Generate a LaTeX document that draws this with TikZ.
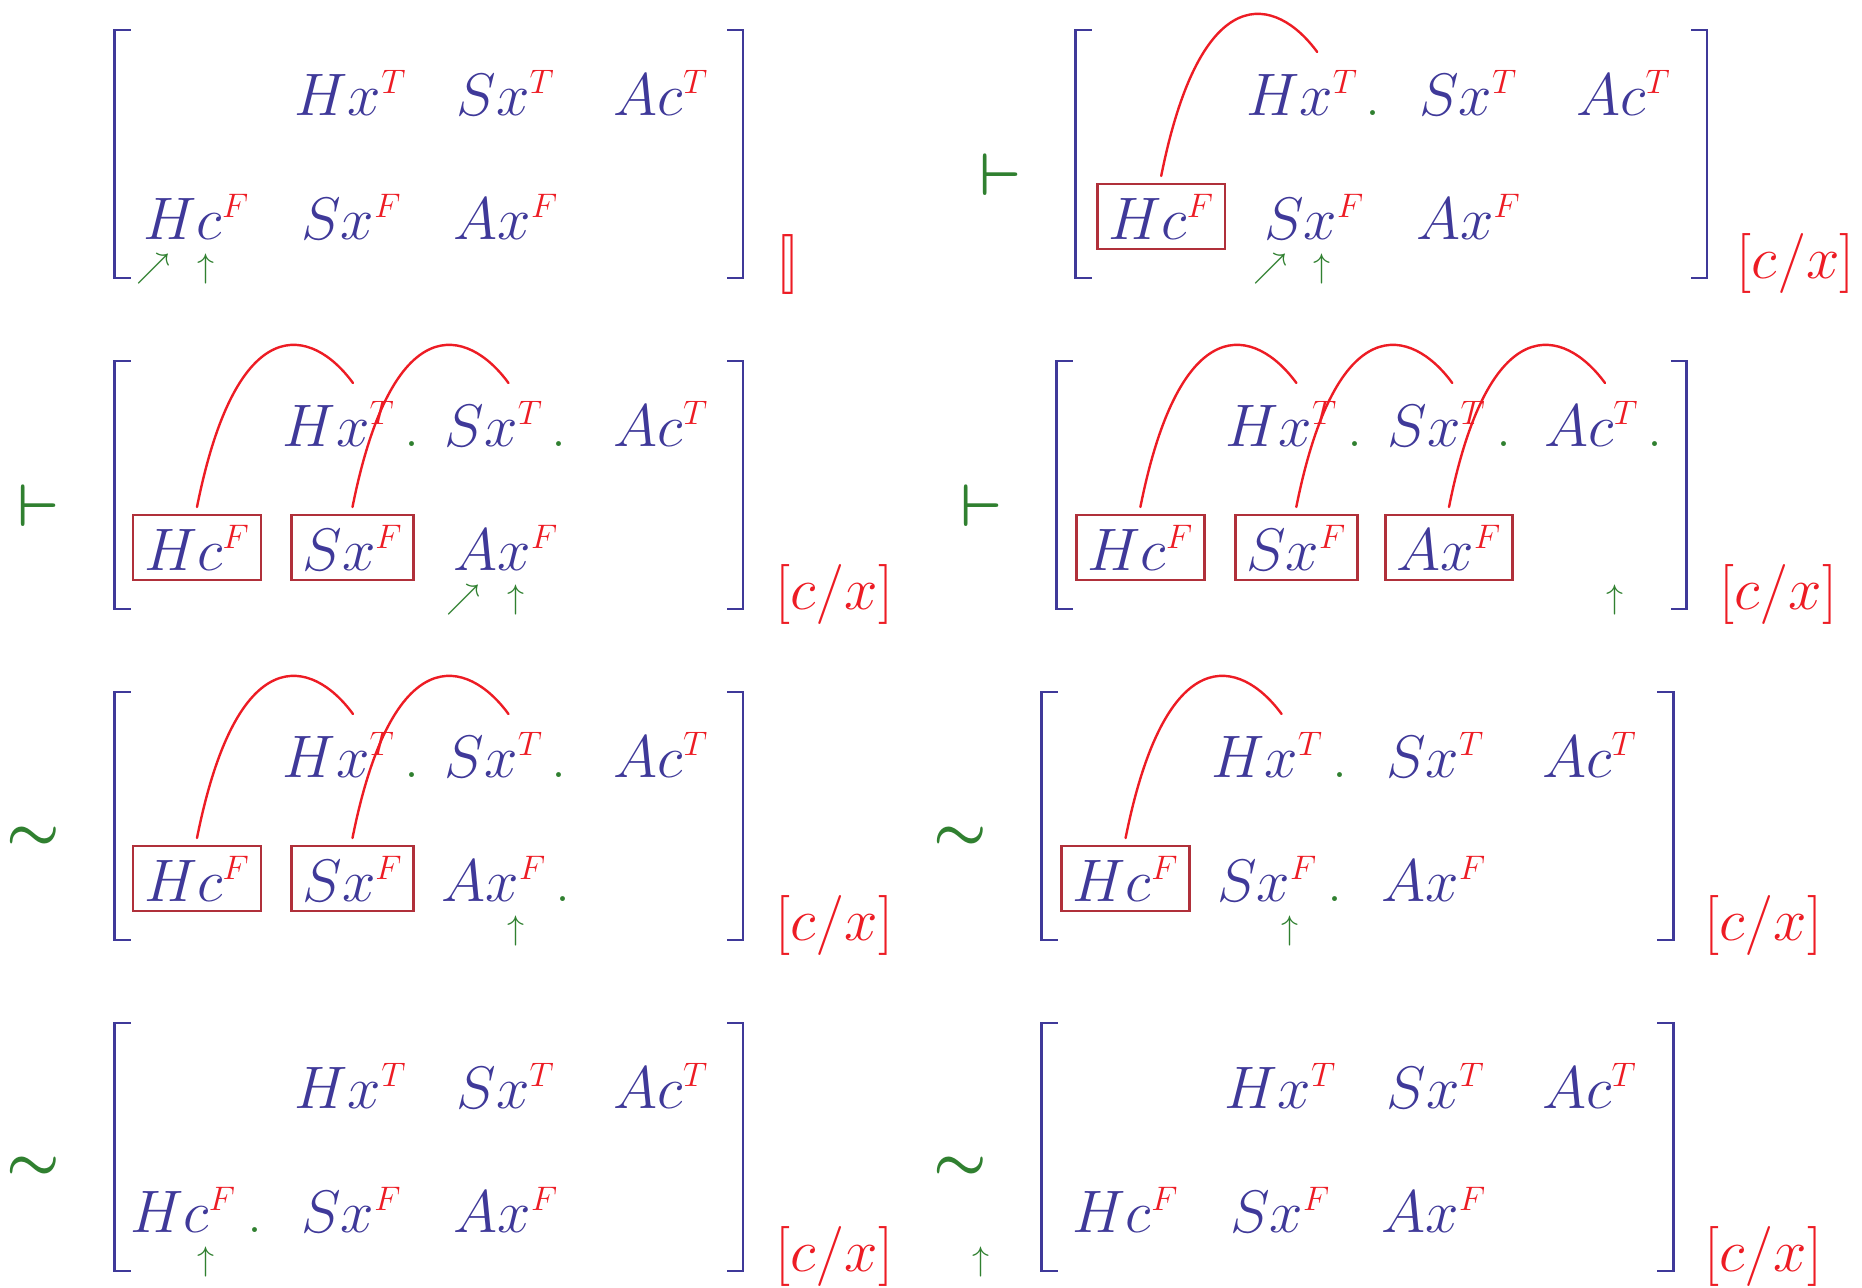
\RequirePackage{fix-cm}
\documentclass[tikz,border=0pt]{standalone}
\usepackage{xcolor}
\DeclareMathSizes{30}{30}{17}{12}
\definecolor{mblue}{RGB}{63,57,153}
\definecolor{mred}{RGB}{237,28,36}
\definecolor{mbox}{RGB}{176,48,58}
\definecolor{mgreen}{RGB}{48,128,48}
\newcommand\mtx[3]{$#1#2^{\textcolor{mred}{#3}}$}
\begin{document}
\begin{tikzpicture}[x=0.5pt,y=-0.5pt,
  ent/.style={anchor=base west, inner sep=0pt, outer sep=0pt, text=mblue, font=\fontsize{30}{36}\selectfont, xshift=-1.5pt},
  boxent/.style={ent, draw=mbox, line width=1.3pt, inner xsep=5.5pt, inner ysep=5pt, xshift=-5.5pt},
  gdot/.style={anchor=base, inner sep=0pt, text=mgreen, font=\fontsize{30}{36}\selectfont},
  rel/.style={anchor=base, inner sep=0pt, text=mgreen, font=\fontsize{30}{36}\selectfont\boldmath},
  arr/.style={anchor=base, inner sep=0pt, text=mgreen, font=\fontsize{17}{20}\selectfont},
  subst/.style={anchor=base west, inner sep=0pt, text=mred, font=\fontsize{30}{36}\selectfont, xshift=-2.5pt},
  brk/.style={draw=mblue, line width=1.4pt},
  link/.style={draw=mred, line width=1.2pt, line cap=round}]
\useasboundingbox (0,0) rectangle (1862,1287);

% ---------- panel 1 ----------
\draw[brk] (130.5,30) -- (114.5,30) -- (114.5,278) -- (130.5,278);
\draw[brk] (727,30) -- (743,30) -- (743,278) -- (727,278);
\node[ent] (p1a1) at (297.7,115) {\mtx{H}{x}{T}};
\node[ent] (p1a2) at (459.7,115) {\mtx{S}{x}{T}};
\node[ent] (p1a3) at (616.8,115) {\mtx{A}{c}{T}};
\node[ent] (p1b1) at (146.5,239) {\mtx{H}{c}{F}};
\node[ent] (p1b2) at (304.3,239) {\mtx{S}{x}{F}};
\node[ent] (p1b3) at (456.7,239) {\mtx{A}{x}{F}};
\node[arr, anchor=base west] (p1ne) at (136,277.6) {$\nearrow$};
\node[arr] (p1up) at (205.8,277.6) {$\uparrow$};
\node[subst] (p1s) at (781,279) {$[\mkern-2mu]$};

% ---------- panel 2 ----------
\node[rel] (p2r) at (1001,195) {$\vdash$};
\draw[brk] (1091.7,30) -- (1075.7,30) -- (1075.7,278) -- (1091.7,278);
\draw[brk] (1691,30) -- (1707,30) -- (1707,278) -- (1691,278);
\node[ent] (p2a1) at (1249.2,115) {\mtx{H}{x}{T}};
\node[gdot] (p2d1) at (1372.9,115) {.};
\node[ent] (p2a2) at (1422.2,115) {\mtx{S}{x}{T}};
\node[ent] (p2a3) at (1579.2,115) {\mtx{A}{c}{T}};
\node[boxent] (p2b1) at (1111.3,239) {\mtx{H}{c}{F}};
\node[ent] (p2b2) at (1267.1,239) {\mtx{S}{x}{F}};
\node[ent] (p2b3) at (1419.3,239) {\mtx{A}{x}{F}};
\node[arr, anchor=base west] (p2ne) at (1253.5,277.6) {$\nearrow$};
\node[arr] (p2up) at (1322.4,277.6) {$\uparrow$};
\node[subst] (p2s) at (1741.5,278) {$[c/x]$};
\coordinate (p2e1) at ([shift={(156,-132)}]p2b1.north);
\draw[link] ([yshift=4pt]p2b1.north) .. controls +(40,-200) and +(-41,-56) .. (p2e1);

% ---------- panel 3 ----------
\begin{scope}[shift={(0,331)}]
\node[rel] (p3r) at (38.3,195) {$\vdash$};
\draw[brk] (130.5,30) -- (114.5,30) -- (114.5,278) -- (130.5,278);
\draw[brk] (727,30) -- (743,30) -- (743,278) -- (727,278);
\node[ent] (p3a1) at (285.9,115) {\mtx{H}{x}{T}};
\node[gdot] (p3d1) at (412.2,115) {.};
\node[ent] (p3a2) at (447.8,115) {\mtx{S}{x}{T}};
\node[gdot] (p3d2) at (559.3,115) {.};
\node[ent] (p3a3) at (616.8,115) {\mtx{A}{c}{T}};
\node[boxent] (p3b1) at (147.1,239) {\mtx{H}{c}{F}};
\node[boxent] (p3b2) at (305.4,239) {\mtx{S}{x}{F}};
\node[ent] (p3b3) at (456.7,239) {\mtx{A}{x}{F}};
\node[arr, anchor=base west] (p3ne) at (446.2,277.6) {$\nearrow$};
\node[arr] (p3up) at (516,277.6) {$\uparrow$};
\node[subst] (p3s) at (780,278) {$[c/x]$};
\coordinate (p3e1) at ([shift={(156,-132)}]p3b1.north);
\coordinate (p3e2) at ([shift={(156,-132)}]p3b2.north);
\draw[link] ([yshift=4pt]p3b1.north) .. controls +(40,-200) and +(-41,-56) .. (p3e1);
\draw[link] ([yshift=4pt]p3b2.north) .. controls +(40,-200) and +(-41,-56) .. (p3e2);
\end{scope}

% ---------- panel 4 ----------
\begin{scope}[shift={(0,331)}]
\node[rel] (p4r) at (981.5,195) {$\vdash$};
\draw[brk] (1072.6,30) -- (1056.6,30) -- (1056.6,278) -- (1072.6,278);
\draw[brk] (1670.8,30) -- (1686.8,30) -- (1686.8,278) -- (1670.8,278);
\node[ent] (p4a1) at (1228.4,115) {\mtx{H}{x}{T}};
\node[gdot] (p4d1) at (1355.1,115) {.};
\node[ent] (p4a2) at (1390.7,115) {\mtx{S}{x}{T}};
\node[gdot] (p4d2) at (1503.7,115) {.};
\node[ent] (p4a3) at (1547.1,115) {\mtx{A}{c}{T}};
\node[gdot] (p4d3) at (1655.3,115) {.};
\node[boxent] (p4b1) at (1090.5,239) {\mtx{H}{c}{F}};
\node[boxent] (p4b2) at (1249.2,239) {\mtx{S}{x}{F}};
\node[boxent] (p4b3) at (1399.7,239) {\mtx{A}{x}{F}};
\node[arr] (p4up) at (1614.9,277.6) {$\uparrow$};
\node[subst] (p4s) at (1723.7,278) {$[c/x]$};
\coordinate (p4e1) at ([shift={(156,-132)}]p4b1.north);
\coordinate (p4e2) at ([shift={(156,-132)}]p4b2.north);
\coordinate (p4e3) at ([shift={(156,-132)}]p4b3.north);
\draw[link] ([yshift=4pt]p4b1.north) .. controls +(40,-200) and +(-41,-56) .. (p4e1);
\draw[link] ([yshift=4pt]p4b2.north) .. controls +(40,-200) and +(-41,-56) .. (p4e2);
\draw[link] ([yshift=4pt]p4b3.north) .. controls +(40,-200) and +(-41,-56) .. (p4e3);
\end{scope}

% ---------- panel 5 ----------
\begin{scope}[shift={(0,662)}]
\node[rel] (p5r) at (33.5,188) {$\sim$};
\draw[brk] (130.5,30) -- (114.5,30) -- (114.5,278) -- (130.5,278);
\draw[brk] (727,30) -- (743,30) -- (743,278) -- (727,278);
\node[ent] (p5a1) at (285.9,115) {\mtx{H}{x}{T}};
\node[gdot] (p5d1) at (412.2,115) {.};
\node[ent] (p5a2) at (447.8,115) {\mtx{S}{x}{T}};
\node[gdot] (p5d2) at (559.3,115) {.};
\node[ent] (p5a3) at (616.8,115) {\mtx{A}{c}{T}};
\node[boxent] (p5b1) at (147.1,239) {\mtx{H}{c}{F}};
\node[boxent] (p5b2) at (305.4,239) {\mtx{S}{x}{F}};
\node[ent] (p5b3) at (444.8,239) {\mtx{A}{x}{F}};
\node[gdot] (p5d3) at (563.4,239) {.};
\node[arr] (p5up) at (516,277.6) {$\uparrow$};
\node[subst] (p5s) at (780,278) {$[c/x]$};
\coordinate (p5e1) at ([shift={(156,-132)}]p5b1.north);
\coordinate (p5e2) at ([shift={(156,-132)}]p5b2.north);
\draw[link] ([yshift=4pt]p5b1.north) .. controls +(40,-200) and +(-41,-56) .. (p5e1);
\draw[link] ([yshift=4pt]p5b2.north) .. controls +(40,-200) and +(-41,-56) .. (p5e2);
\end{scope}

% ---------- panel 6 ----------
\begin{scope}[shift={(0,662)}]
\node[rel] (p6r) at (960.3,188) {$\sim$};
\draw[brk] (1057.8,30) -- (1041.8,30) -- (1041.8,278) -- (1057.8,278);
\draw[brk] (1657.1,30) -- (1673.1,30) -- (1673.1,278) -- (1657.1,278);
\node[ent] (p6a1) at (1214.2,115) {\mtx{H}{x}{T}};
\node[gdot] (p6d1) at (1340.2,115) {.};
\node[ent] (p6a2) at (1389,115) {\mtx{S}{x}{T}};
\node[ent] (p6a3) at (1545.3,115) {\mtx{A}{c}{T}};
\node[boxent] (p6b1) at (1075.7,239) {\mtx{H}{c}{F}};
\node[ent] (p6b2) at (1220.1,239) {\mtx{S}{x}{F}};
\node[gdot] (p6d2) at (1335.4,239) {.};
\node[ent] (p6b3) at (1384.8,239) {\mtx{A}{x}{F}};
\node[arr] (p6up) at (1289.7,277.6) {$\uparrow$};
\node[subst] (p6s) at (1708.8,278) {$[c/x]$};
\coordinate (p6e1) at ([shift={(156,-132)}]p6b1.north);
\draw[link] ([yshift=4pt]p6b1.north) .. controls +(40,-200) and +(-41,-56) .. (p6e1);
\end{scope}

% ---------- panel 7 ----------
\begin{scope}[shift={(0,993)}]
\node[rel] (p7r) at (33.5,187) {$\sim$};
\draw[brk] (130.5,30) -- (114.5,30) -- (114.5,278) -- (130.5,278);
\draw[brk] (727,30) -- (743,30) -- (743,278) -- (727,278);
\node[ent] (p7a1) at (297.7,115) {\mtx{H}{x}{T}};
\node[ent] (p7a2) at (459.7,115) {\mtx{S}{x}{T}};
\node[ent] (p7a3) at (616.8,115) {\mtx{A}{c}{T}};
\node[ent] (p7b1) at (133.4,239) {\mtx{H}{c}{F}};
\node[gdot] (p7d1) at (255,239) {.};
\node[ent] (p7b2) at (304.3,239) {\mtx{S}{x}{F}};
\node[ent] (p7b3) at (456.7,239) {\mtx{A}{x}{F}};
\node[arr] (p7up) at (206.4,277.6) {$\uparrow$};
\node[subst] (p7s) at (780,278) {$[c/x]$};
\end{scope}

% ---------- panel 8 ----------
\begin{scope}[shift={(0,993)}]
\node[rel] (p8r) at (960.3,187) {$\sim$};
\node[arr] (p8up) at (980.5,277.6) {$\uparrow$};
\draw[brk] (1057.8,30) -- (1041.8,30) -- (1041.8,278) -- (1057.8,278);
\draw[brk] (1657.1,30) -- (1673.1,30) -- (1673.1,278) -- (1657.1,278);
\node[ent] (p8a1) at (1227.3,115) {\mtx{H}{x}{T}};
\node[ent] (p8a2) at (1389.5,115) {\mtx{S}{x}{T}};
\node[ent] (p8a3) at (1545.3,115) {\mtx{A}{c}{T}};
\node[ent] (p8b1) at (1075.7,239) {\mtx{H}{c}{F}};
\node[ent] (p8b2) at (1233.2,239) {\mtx{S}{x}{F}};
\node[ent] (p8b3) at (1384.8,239) {\mtx{A}{x}{F}};
\node[subst] (p8s) at (1708.8,278) {$[c/x]$};
\end{scope}
\end{tikzpicture}
\end{document}
